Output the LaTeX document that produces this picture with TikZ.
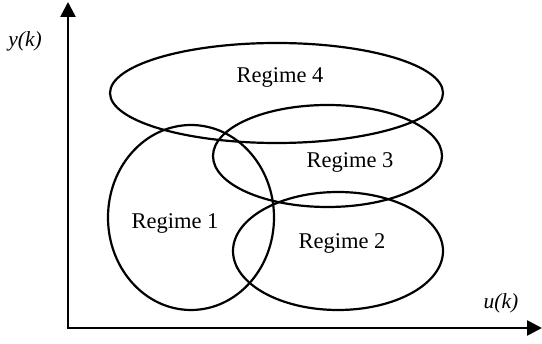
\documentclass[tikz,border=0pt]{standalone}
\usepackage{fontspec}
\setmainfont{Liberation Serif}
\usetikzlibrary{arrows.meta,shapes.geometric}
\begin{document}
\begin{tikzpicture}[x=1pt,y=-1pt,
  regime/.style={draw, ellipse, line width=2.2pt, inner sep=0pt, outer sep=0pt},
  lbl/.style={font=\fontsize{22.5}{26}\selectfont, inner sep=0pt},
  axislbl/.style={font=\fontsize{21.5}{26}\selectfont\itshape, inner sep=0pt},
  axis/.style={line width=2.6pt, -{Triangle[length=15pt,width=15pt]}}]
\useasboundingbox (0,0) rectangle (542,344);
\coordinate (O) at (68,328);
\coordinate (ytop) at (68,2);
\coordinate (xend) at (542,328);
\draw[axis] ([yshift=1.3pt]O) -- (ytop);
\draw[axis] ([xshift=-1.3pt]O) -- (xend);
\node[axislbl] (ylab) at (25,41) {y(k)};
\node[axislbl] (ulab) at (501,303) {u(k)};
\node[regime, minimum width=333pt, minimum height=100pt] (r4) at (276.5,93) {};
\node[regime, minimum width=229pt, minimum height=102pt] (r3) at (327.5,156) {};
\node[regime, minimum width=166pt, minimum height=185pt] (r1) at (191,217.5) {};
\node[regime, minimum width=210pt, minimum height=118pt] (r2) at (338,251) {};
\node[lbl] (t4) at (280,77) {Regime 4};
\node[lbl] (t3) at (350,162) {Regime 3};
\node[lbl] (t1) at (175,223) {Regime 1};
\node[lbl] (t2) at (342,243) {Regime 2};
\end{tikzpicture}
\end{document}
